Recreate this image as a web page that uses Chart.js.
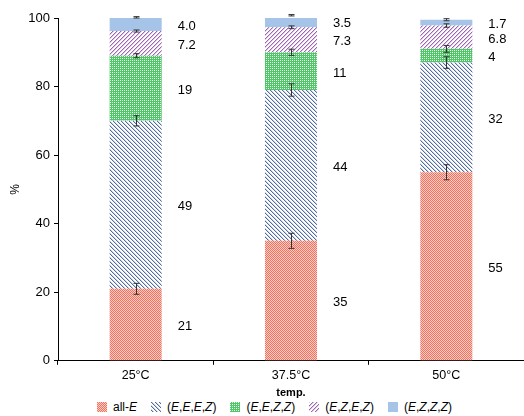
<!DOCTYPE html>
<html>
<head>
<meta charset="utf-8">
<script src="https://cdn.jsdelivr.net/npm/chart.js@4.4.1/dist/chart.umd.min.js"></script>
<style>
  body { margin: 0; background: #fff; }
  #wrap { position: relative; width: 524px; height: 416px; }
  #legend { position: absolute; left: 97px; top: 400px; display: flex; align-items: center;
            font: 12px "Liberation Sans", Arial, sans-serif; color: #000; white-space: nowrap; }
  #legend .item { display: flex; align-items: center; margin-right: 14px; }
  #legend .sw { width: 10px; height: 10px; margin-right: 6px; }
</style>
</head>
<body>
<div id="wrap">
  <canvas id="chart" width="524" height="400" style="width:524px;height:400px"></canvas>
  <div id="legend"></div>
</div>
<script>
const categories = ['25°C', '37.5°C', '50°C'];
const allE = [21, 35, 55];
const EEEZ = [49, 44, 32];
const EEZZ = [19, 11, 4];
const EZEZ = [7.2, 7.3, 6.8];
const EZZZ = [4.0, 3.5, 1.7];
const labelsAllE = ['21', '35', '55'];
const labelsEEEZ = ['49', '44', '32'];
const labelsEEZZ = ['19', '11', '4'];
const labelsEZEZ = ['7.2', '7.3', '6.8'];
const labelsEZZZ = ['4.0', '3.5', '1.7'];
const errAllE = [1.6, 2.2, 2.2];
const errEEEZ = [1.5, 1.8, 1.7];
const errEEZZ = [0.6, 0.9, 1.0];
const errEZEZ = [0.3, 0.4, 0.5];
const errEZZZ = [0.2, 0.2, 0.3];
const yTicks = [0, 20, 40, 60, 80, 100];

const ctx = document.getElementById('chart');
const FONT = '"Liberation Sans", Arial, sans-serif';

function makePattern(draw) {
  const c = document.createElement('canvas');
  c.width = 4; c.height = 4;
  const g = c.getContext('2d');
  g.fillStyle = '#fff';
  g.fillRect(0, 0, 4, 4);
  draw(g);
  return { pattern: c.getContext('2d').createPattern(c, 'repeat'), url: c.toDataURL() };
}
function px(g, x, y, col) { g.fillStyle = col; g.fillRect(x, y, 1, 1); }

const redPat = makePattern(g => {
  for (let y = 0; y < 4; y++) for (let x = 0; x < 4; x++)
    px(g, x, y, (x + y) % 2 ? '#fdccc3' : '#f27262');
});
const bluePat = makePattern(g => {
  for (let i = 0; i < 4; i++) { px(g, i, i, '#536c9e'); px(g, (i + 1) % 4, i, '#cdd5e6'); }
});
const greenPat = makePattern(g => {
  g.fillStyle = '#52c46a'; g.fillRect(0, 0, 4, 4);
  px(g, 0, 0, '#ffffff'); px(g, 2, 2, '#ffffff');
  px(g, 2, 0, '#c8efd0'); px(g, 0, 2, '#c8efd0');
});
const purplePat = makePattern(g => {
  for (let i = 0; i < 4; i++) { px(g, 3 - i, i, '#a062b4'); px(g, (4 - i) % 4, i, '#e0cbe6'); }
});
const lightBlue = '#a6c4e8';

const series = [
  { name: 'all-<i>E</i>', data: allE, labels: labelsAllE, err: errAllE, bg: redPat.pattern, sw: 'url(' + redPat.url + ')' },
  { name: '(<i>E</i>,<i>E</i>,<i>E</i>,<i>Z</i>)', data: EEEZ, labels: labelsEEEZ, err: errEEEZ, bg: bluePat.pattern, sw: 'url(' + bluePat.url + ')' },
  { name: '(<i>E</i>,<i>E</i>,<i>Z</i>,<i>Z</i>)', data: EEZZ, labels: labelsEEZZ, err: errEEZZ, bg: greenPat.pattern, sw: 'url(' + greenPat.url + ')' },
  { name: '(<i>E</i>,<i>Z</i>,<i>E</i>,<i>Z</i>)', data: EZEZ, labels: labelsEZEZ, err: errEZEZ, bg: purplePat.pattern, sw: 'url(' + purplePat.url + ')' },
  { name: '(<i>E</i>,<i>Z</i>,<i>Z</i>,<i>Z</i>)', data: EZZZ, labels: labelsEZZZ, err: errEZZZ, bg: lightBlue, sw: lightBlue },
];

const extras = {
  id: 'extras',
  afterDatasetsDraw(chart) {
    const g = chart.ctx;
    const y = chart.scales.y;
    g.save();
    // error bars
    g.strokeStyle = '#333';
    g.lineWidth = 1;
    series.forEach((s, i) => {
      const meta = chart.getDatasetMeta(i);
      meta.data.forEach((bar, j) => {
        let cum = 0;
        for (let k = 0; k <= i; k++) cum += series[k].data[j];
        const t = y.getPixelForValue(cum + s.err[j]);
        const b = y.getPixelForValue(cum - s.err[j]);
        const x = Math.round(bar.x) + 0.5;
        g.beginPath();
        g.moveTo(x, t); g.lineTo(x, b);
        g.moveTo(x - 3, t); g.lineTo(x + 3, t);
        g.moveTo(x - 3, b); g.lineTo(x + 3, b);
        g.stroke();
      });
    });
    // value labels
    g.fillStyle = '#000';
    g.font = '13px ' + FONT;
    g.textAlign = 'left';
    g.textBaseline = 'middle';
    series.forEach((s, i) => {
      const meta = chart.getDatasetMeta(i);
      meta.data.forEach((bar, j) => {
        const mid = (bar.y + bar.base) / 2;
        g.fillText(s.labels[j], bar.x + bar.width / 2 + 16, mid + 2);
      });
    });
    g.restore();
  }
};

new Chart(ctx, {
  type: 'bar',
  data: {
    labels: categories,
    datasets: series.map(s => ({
      label: s.name,
      data: s.data,
      backgroundColor: s.bg,
      borderWidth: 0,
      categoryPercentage: 1,
      barPercentage: 0.335,
    })),
  },
  options: {
    responsive: false,
    animation: false,
    layout: { padding: { top: 18, right: 0, left: 8, bottom: 0 } },
    plugins: { legend: { display: false }, tooltip: { enabled: false } },
    scales: {
      x: {
        stacked: true,
        offset: true,
        grid: { offset: true, drawOnChartArea: false, color: '#000', tickLength: 4 },
        border: { color: '#000', width: 1 },
        ticks: { color: '#000', font: { family: FONT, size: 12.5 }, padding: 3 },
        title: { display: true, text: 'temp.', color: '#000',
                 font: { family: FONT, size: 11, weight: 'bold' }, padding: { top: 1, bottom: 0 } },
      },
      y: {
        stacked: true,
        min: 0,
        max: 100,
        afterBuildTicks: s => { s.ticks = yTicks.map(v => ({ value: v })); },
        afterFit: s => { s.width = 50; },
        grid: { drawOnChartArea: false, color: '#000', tickLength: 4 },
        border: { color: '#000', width: 1 },
        ticks: { color: '#000', font: { family: FONT, size: 13 }, padding: 4 },
        title: { display: true, text: '%', color: '#000',
                 font: { family: FONT, size: 12 }, padding: 0 },
      },
    },
  },
  plugins: [extras],
});

const legend = document.getElementById('legend');
series.forEach(s => {
  const it = document.createElement('div');
  it.className = 'item';
  it.innerHTML = '<span class="sw" style="background:' + s.sw + '"></span><span>' + s.name + '</span>';
  legend.appendChild(it);
});
</script>
</body>
</html>
